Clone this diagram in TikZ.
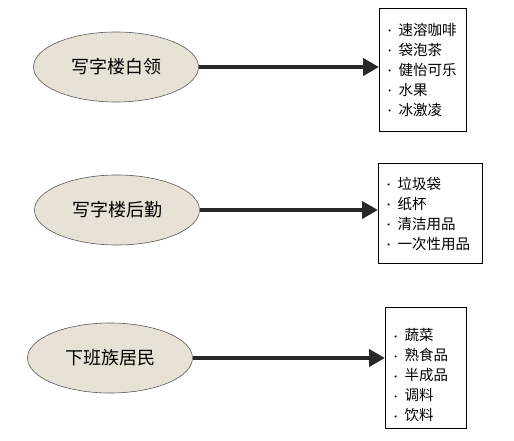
\documentclass[tikz,border=0pt]{standalone}
\usepackage{fontspec}
\usepackage{xcolor}
\usepackage{tikz}
\usetikzlibrary{arrows.meta, shapes.geometric, positioning}
\newfontfamily\cjk{Noto Sans CJK SC}
\definecolor{beige}{RGB}{232,226,214}
\definecolor{arrowgray}{RGB}{40,40,40}
\tikzset{
  crowd/.style={ellipse, draw=gray!70!black, line width=0.6pt, fill=beige,
    minimum width=165pt, minimum height=70pt, inner sep=0pt,
    font=\cjk\fontsize{18}{20}\selectfont},
  goods/.style={draw=black, line width=1.2pt, anchor=north west, align=left,
    inner xsep=7pt, font=\cjk\fontsize{14.5}{20}\selectfont},
  flow/.style={line width=4pt, draw=arrowgray,
    -{Triangle[length=16pt,width=17pt]}},
}
\newcommand{\dotitem}{\makebox[12pt][l]{\raisebox{0.35ex}{\rmfamily\scriptsize\textbullet}}}

\begin{document}
\begin{tikzpicture}[x=1pt,y=-1pt]
        \useasboundingbox (0,0) rectangle (514,441);

        % 三类人群
        \node[crowd] (office) at (116,67) {写字楼白领};
        \node[crowd] (staff) at (117,210) {写字楼后勤};
        \node[crowd] (resident) at (110,358) {下班族居民};

        % 商品清单
        \node[goods, text width=73pt, minimum height=123pt] (list1) at (379,8)
          {\dotitem 速溶咖啡\\ \dotitem 袋泡茶\\ \dotitem 健怡可乐\\ \dotitem 水果\\ \dotitem 冰激凌};
        \node[goods, text width=90pt, minimum height=100pt] (list2) at (378,163)
          {\dotitem 垃圾袋\\ \dotitem 纸杯\\ \dotitem 清洁用品\\ \dotitem 一次性用品};
        \node[goods, text width=67pt, minimum height=121pt] (list3) at (385,307)
          {\rule{0pt}{27pt}\dotitem 蔬菜\\ \dotitem 熟食品\\ \dotitem 半成品\\ \dotitem 调料\\ \dotitem 饮料};

        % 箭头
        \draw[flow] (office.east) -- (office.east -| list1.west);
        \draw[flow] (staff.east) -- (staff.east -| list2.west);
        \draw[flow] (resident.east) -- (resident.east -| list3.west);
\end{tikzpicture}
\end{document}
